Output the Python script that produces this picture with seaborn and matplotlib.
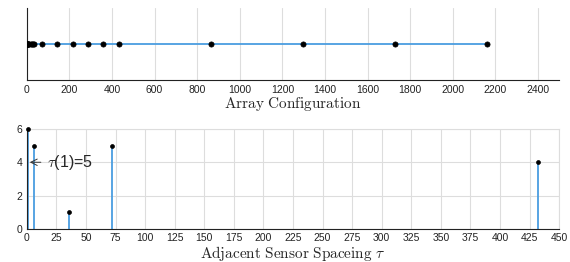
import matplotlib
matplotlib.use("Agg")
import matplotlib.pyplot as plt
import seaborn as sns
import numpy as np

# sensor positions of the array
positions = [0, 1, 2, 3, 4, 5, 6, 12, 18, 24, 30, 36,
             72, 144, 216, 288, 360, 432, 864, 1296, 1728, 2160]
# adjacent spacing histogram
spacings = [1, 6, 36, 72, 432]
counts = [6, 5, 1, 5, 4]

top_ticks = list(range(0, 2401, 200))
bottom_ticks = list(range(0, 451, 25))
y_ticks = [0, 2, 4, 6]

blue = '#4a9de0'

sns.set_style("white")
plt.rcParams['font.family'] = ['Liberation Sans', 'DejaVu Sans']
plt.rcParams['mathtext.fontset'] = 'cm'

fig = plt.figure(figsize=(5.7, 2.62), dpi=100)
ax1 = fig.add_axes([0.047, 0.695, 0.934, 0.275])
ax2 = fig.add_axes([0.047, 0.126, 0.934, 0.382])

# top: array configuration
zeros = np.zeros(len(positions))
sns.lineplot(x=positions, y=zeros, ax=ax1, color=blue, linewidth=1.3, zorder=2)
sns.scatterplot(x=positions, y=zeros, ax=ax1, color='black', s=14,
                edgecolor='black', linewidth=0.5, zorder=3)
ax1.set_xlim(0, 2500)
ax1.set_ylim(-1, 1)
ax1.set_xticks(top_ticks)
ax1.set_yticks([])
ax1.grid(axis='x', color='#dddddd', linewidth=0.8)
ax1.set_axisbelow(True)
for s in ['top', 'right']:
    ax1.spines[s].set_visible(False)
for s in ['left', 'bottom']:
    ax1.spines[s].set_color('#222222')
    ax1.spines[s].set_linewidth(0.8)
ax1.tick_params(axis='x', direction='in', length=3, width=0.8, labelsize=7.5,
                colors='#222222', pad=4)
ax1.set_xlabel(r'$\mathrm{Array\ Configuration}$', fontsize=11, labelpad=0)

# bottom: spacing stems
ax2.vlines(spacings, 0, counts, color=blue, linewidth=1.3, zorder=2)
sns.scatterplot(x=spacings, y=counts, ax=ax2, color='black', s=8,
                edgecolor='black', linewidth=0.5, zorder=3, clip_on=False)
ax2.set_xlim(0, 450)
ax2.set_ylim(0, 6)
ax2.set_xticks(bottom_ticks)
ax2.set_yticks(y_ticks)
ax2.grid(True, color='#dddddd', linewidth=0.8)
ax2.set_axisbelow(True)
for s in ['top', 'right']:
    ax2.spines[s].set_color('#dddddd')
    ax2.spines[s].set_linewidth(0.8)
for s in ['left', 'bottom']:
    ax2.spines[s].set_color('#222222')
    ax2.spines[s].set_linewidth(0.8)
ax2.tick_params(direction='in', length=3, width=0.8, labelsize=7.5,
                colors='#222222', pad=3)
ax2.tick_params(axis='y', length=0)
ax2.set_xlabel(r'$\mathrm{Adjacent\ Sensor\ Spaceing}\ \tau$', fontsize=11, labelpad=0.5)

ax2.annotate(r'$\tau$(1)=5', xy=(2.5, 4), xytext=(17, 4), fontsize=11.5,
             va='center', ha='left',
             arrowprops=dict(arrowstyle='->', color='#333333', lw=0.7,
                             shrinkA=2, shrinkB=0))

fig.savefig('out.png', dpi=100)
